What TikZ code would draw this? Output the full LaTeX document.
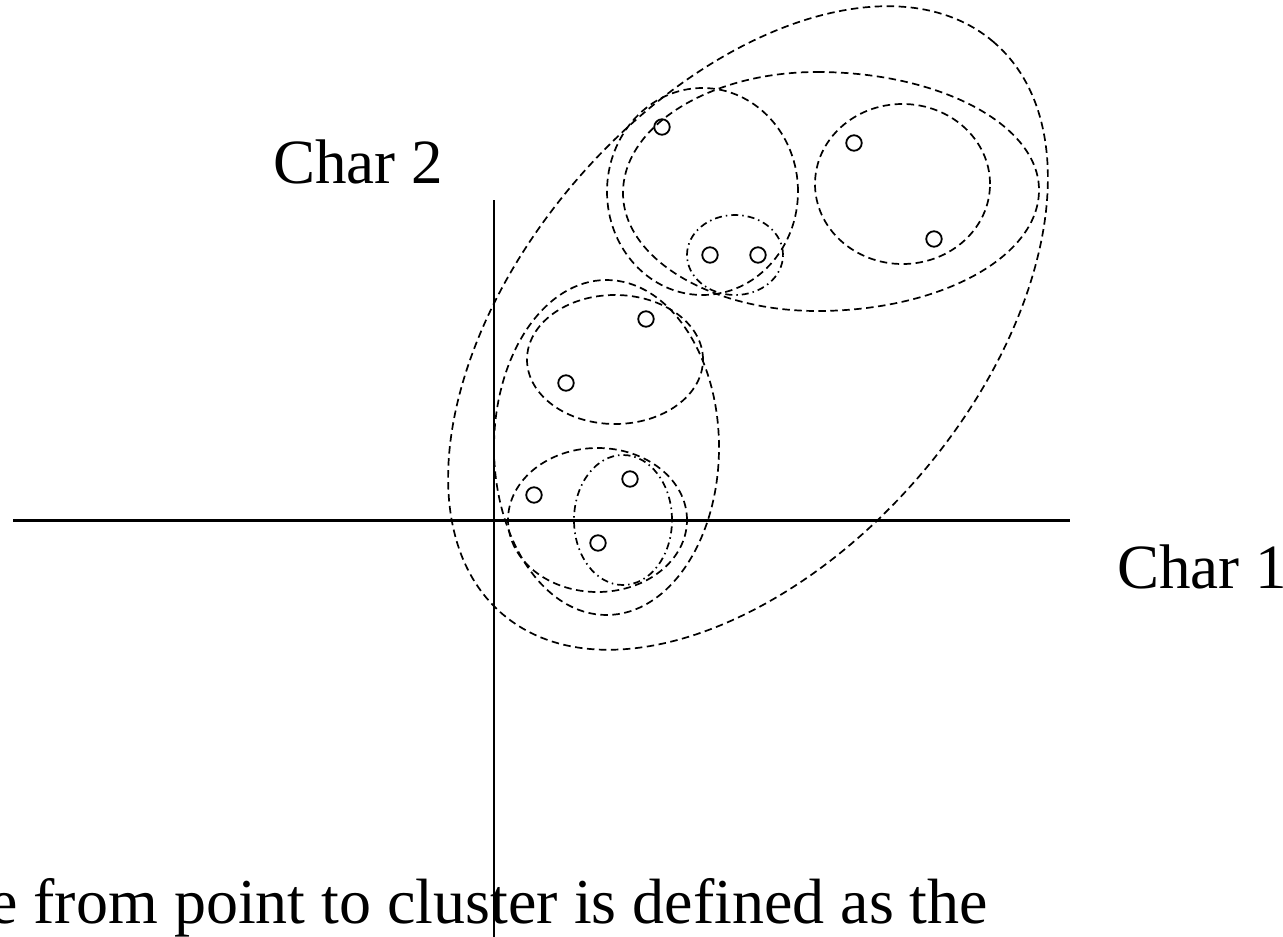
\documentclass[tikz,border=0pt]{standalone}
\usepackage{fontspec}
\setmainfont{Liberation Serif}
\begin{document}
\begin{tikzpicture}[x=1pt,y=-1pt,
  dsh/.style={line width=1.7pt, dash pattern=on 7.5pt off 4.5pt},
  dd/.style={line width=1.7pt, dash pattern=on 7pt off 4pt on 1.5pt off 4pt},
  pt/.style={circle, draw, line width=1.8pt, minimum size=15.5pt, inner sep=0pt},
  lbl/.style={font=\fontsize{63}{70}\selectfont, inner sep=0pt, anchor=base west}]
\useasboundingbox (0,0) rectangle (1283,937);
\clip (0,0) rectangle (1283,937);
% axes
\coordinate (xl) at (13,520);
\coordinate (xr) at (1070,520);
\coordinate (yt) at (494,200);
\coordinate (yb) at (494,940);
\draw[line width=3pt] (xl) -- (xr);
\draw[line width=2.2pt] (yt) -- (yb);
% labels
\node[lbl] (c2) at (273,183) {Char 2};
\node[lbl] (c1) at (1117,588) {Char 1};
\node[lbl, font=\fontsize{64}{70}\selectfont] (txt) at (-11,923) {e from point to cluster is defined as the};
% outer cluster
\draw[dsh, rotate around={49.3:(748,328)}] (748,328) ellipse [x radius=377pt, y radius=226.5pt];
% upper group
\draw[dsh] (817,72) .. controls (940,72) and (1039,125) .. (1039,190)
  .. controls (1039,257) and (940,311) .. (817,311)
  .. controls (710,311) and (623,258) .. (623,193)
  .. controls (623,126) and (710,72) .. cycle;
\draw[dsh] (702.5,191.5) ellipse [x radius=95.5pt, y radius=103.5pt];
\draw[dsh] (902.5,184) ellipse [x radius=87.5pt, y radius=80pt];
\draw[dd] (735,255) ellipse [x radius=48pt, y radius=40pt];
% lower group
\draw[dsh] (606.5,447.5) ellipse [x radius=112.5pt, y radius=167.5pt];
\draw[dsh] (615,359.5) ellipse [x radius=88pt, y radius=64.5pt];
\draw[dsh] (597.5,520) ellipse [x radius=89.5pt, y radius=72pt];
\draw[dd] (623,520) ellipse [x radius=49pt, y radius=65pt];
% points
\node[pt] (p1) at (662,127) {};
\node[pt] (p2) at (854,143) {};
\node[pt] (p3) at (710,255) {};
\node[pt] (p4) at (758,255) {};
\node[pt] (p5) at (934,239) {};
\node[pt] (p6) at (646,319) {};
\node[pt] (p7) at (566,383) {};
\node[pt] (p8) at (534,495) {};
\node[pt] (p9) at (630,479) {};
\node[pt] (p10) at (598,543) {};
\end{tikzpicture}
\end{document}
